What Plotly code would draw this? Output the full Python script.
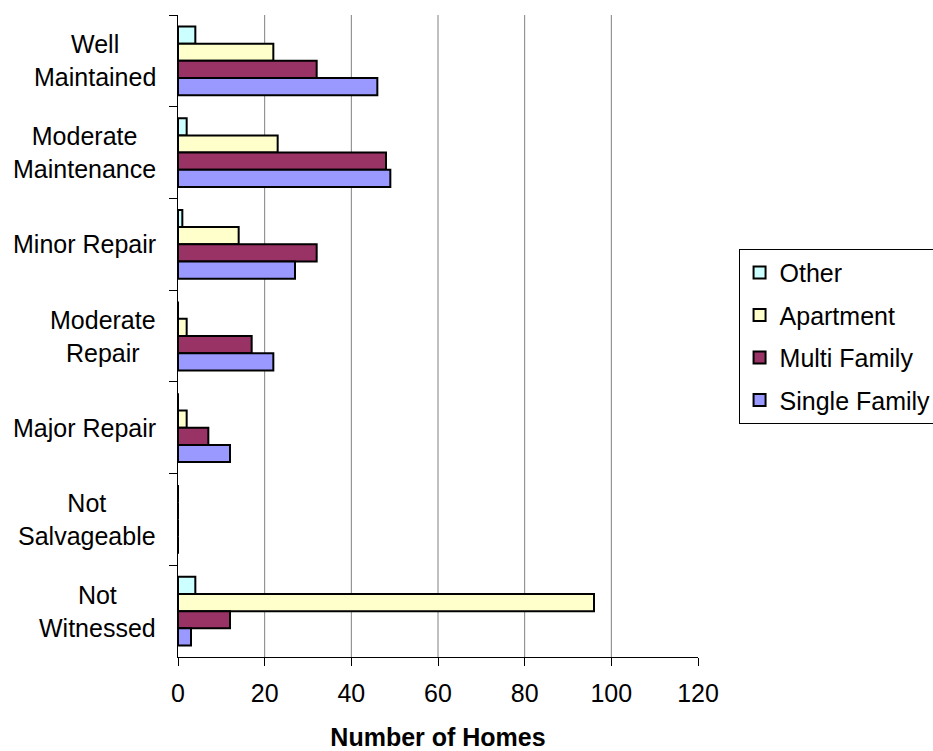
import plotly.graph_objects as go

# Condition categories, top to bottom
categories = [
    "Well Maintained",
    "Moderate Maintenance",
    "Minor Repair",
    "Moderate Repair",
    "Major Repair",
    "Not Salvageable",
    "Not Witnessed",
]
category_labels = [
    "Well<br>Maintained",
    "Moderate<br>Maintenance",
    "Minor Repair",
    "Moderate<br>Repair",
    "Major Repair",
    "Not<br>Salvageable",
    "Not<br>Witnessed",
]

# Number of homes per housing type
other = [4, 2, 1, 0, 0, 0, 4]
apartment = [22, 23, 14, 2, 2, 0, 96]
multi_family = [32, 48, 32, 17, 7, 0, 12]
single_family = [46, 49, 27, 22, 12, 0, 3]

series_names = ["Other", "Apartment", "Multi Family", "Single Family"]
series_values = [other, apartment, multi_family, single_family]
series_colors = ["#CCFFFF", "#FFFFCC", "#993366", "#9999FF"]

x_ticks = [0, 20, 40, 60, 80, 100, 120]
grid_ticks = [20, 40, 60, 80, 100]

FONT = "Liberation Sans, Arial, sans-serif"
FS = 25

fig = go.Figure()
for name, vals, color in zip(series_names, series_values, series_colors):
    fig.add_trace(go.Bar(
        name=name,
        legendgroup=name,
        y=categories,
        x=vals,
        orientation="h",
        marker=dict(color=color, line=dict(color="black", width=2)),
    ))

# vertical gridlines (none drawn at the right end of the scale)
for g in grid_ticks:
    fig.add_shape(type="line", xref="x", yref="paper", x0=g, x1=g, y0=0, y1=1,
                  line=dict(color="#808080", width=1), layer="below")

# centred, multi-line category labels
for cat, lab in zip(categories, category_labels):
    fig.add_annotation(text=lab, xref="paper", yref="y", x=0, y=cat,
                       xanchor="right", yanchor="middle", xshift=-20,
                       align="center", showarrow=False,
                       font=dict(family=FONT, size=FS, color="black"))

fig.update_layout(
    width=933, height=751,
    margin=dict(l=178, r=235, t=15, b=94, autoexpand=False),
    paper_bgcolor="white", plot_bgcolor="white",
    font=dict(family=FONT, size=FS, color="black"),
    barmode="group", bargap=0.25, bargroupgap=0,
    showlegend=True,
    legend=dict(
        x=1.078, y=0.636, xanchor="left", yanchor="top",
        bordercolor="black", borderwidth=1, bgcolor="white",
        font=dict(family=FONT, size=FS, color="black"),
        traceorder="grouped", tracegroupgap=7,
    ),
    xaxis=dict(
        range=[0, 120], tickvals=x_ticks, ticktext=[str(v) for v in x_ticks],
        showgrid=False, zeroline=False,
        showline=True, linecolor="black", linewidth=1,
        ticks="outside", ticklen=8, tickcolor="black",
        ticklabelstandoff=6,
        tickfont=dict(family=FONT, size=FS, color="black"),
        title=dict(text="<b>Number of Homes</b>", standoff=26,
                   font=dict(family=FONT, size=FS, color="black")),
    ),
    yaxis=dict(
        type="category", categoryorder="array", categoryarray=categories,
        autorange="reversed", showticklabels=False,
        showgrid=False, zeroline=False,
        showline=True, linecolor="black", linewidth=1,
        ticks="outside", ticklen=8, tickcolor="black", tickson="boundaries",
    ),
)

fig.write_html("out.html")
